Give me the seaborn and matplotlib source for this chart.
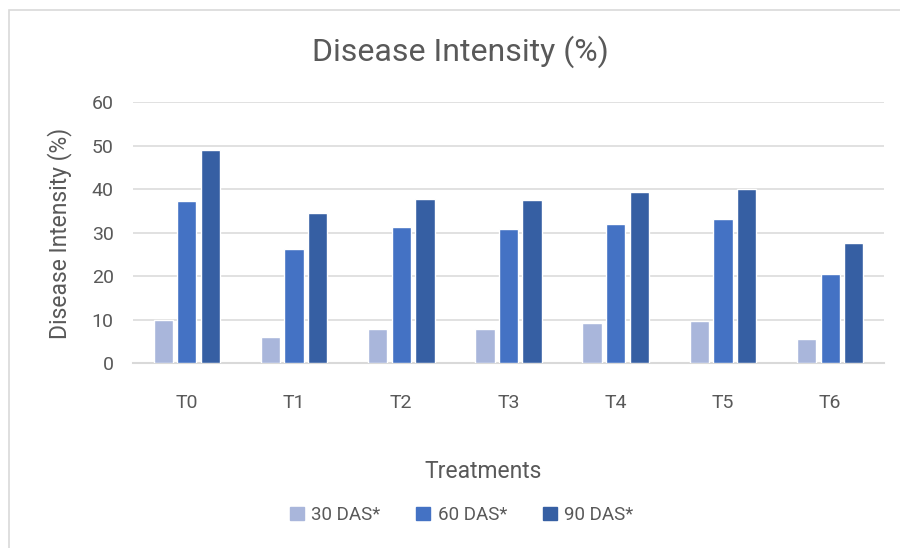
import numpy as np
import pandas as pd
import matplotlib
matplotlib.use("Agg")
import matplotlib.pyplot as plt
from matplotlib.patches import Rectangle
import seaborn as sns

TREATMENTS = ["T0", "T1", "T2", "T3", "T4", "T5", "T6"]
SERIES = ["30 DAS*", "60 DAS*", "90 DAS*"]
DAS30 = [10.0, 6.0, 7.9, 7.9, 9.2, 9.8, 5.7]
DAS60 = [37.3, 26.2, 31.3, 30.8, 32.0, 33.3, 20.5]
DAS90 = [49.0, 34.6, 37.8, 37.5, 39.4, 40.1, 27.7]
COLORS = ["#A9B6DB", "#4472C4", "#365FA3"]

df = pd.DataFrame({
    "Treatment": TREATMENTS * 3,
    "Series": np.repeat(SERIES, len(TREATMENTS)),
    "Value": DAS30 + DAS60 + DAS90,
})

sns.set_theme(style="white")
plt.rcParams["font.family"] = ["Roboto", "DejaVu Sans"]
TXT = "#595959"

fig = plt.figure(figsize=(9, 5.48), dpi=100)
ax = fig.add_axes([0.148, 0.337, 0.834, 0.476])

sns.barplot(data=df, x="Treatment", y="Value", hue="Series", palette=COLORS,
            saturation=1, width=0.66, gap=0.18, ax=ax, legend=False, zorder=3)

ax.set_ylim(0, 60)
ax.set_xlim(-0.5, 6.5)
ax.set_yticks(range(0, 61, 10))
ax.grid(axis="y", color="#D9D9D9", linewidth=1.1, zorder=0)
for s in ["top", "right", "left"]:
    ax.spines[s].set_visible(False)
ax.spines["bottom"].set_color("#D9D9D9")
ax.spines["bottom"].set_linewidth(1.5)
ax.tick_params(axis="both", length=0, labelsize=14, colors=TXT)
ax.tick_params(axis="y", pad=14)
ax.tick_params(axis="x", pad=22)
ax.set_xlabel("")
ax.set_ylabel("Disease Intensity (%)", fontsize=16.5, color=TXT, labelpad=14)

fig.text(0.511, 0.905, "Disease Intensity (%)", ha="center", va="center",
         fontsize=23, color=TXT)
fig.text(0.537, 0.139, "Treatments", ha="center", va="center",
         fontsize=16.5, color=TXT)

handles = [Rectangle((0, 0), 1, 1, color=c) for c in COLORS]
fig.legend(handles, SERIES, loc="center", bbox_to_anchor=(0.513, 0.06),
           ncol=3, frameon=False, fontsize=13.5, labelcolor=TXT,
           handlelength=0.75, handleheight=0.75, handletextpad=0.4,
           columnspacing=1.9)

fig.patches.append(Rectangle((0.01, -0.1), 1.2, 1.082, transform=fig.transFigure,
                             fill=False, edgecolor="#D9D9D9", linewidth=1.2))

fig.savefig("out.png", dpi=100)
